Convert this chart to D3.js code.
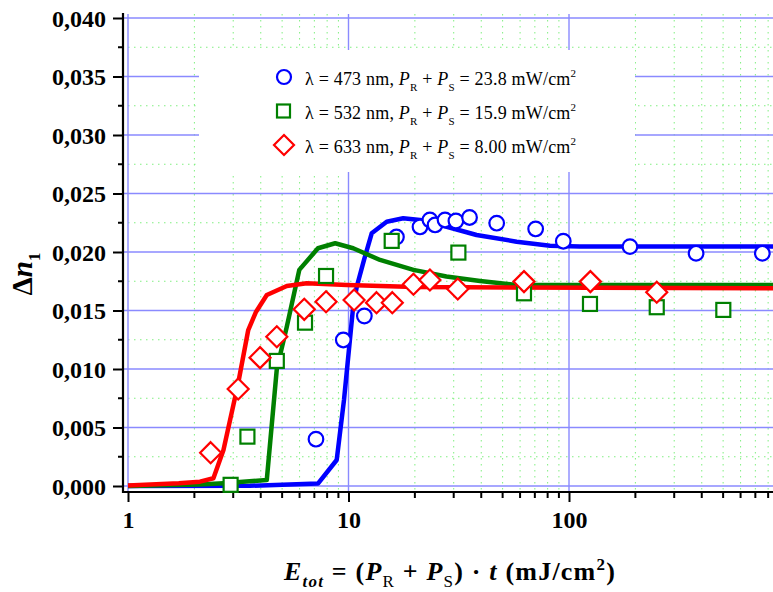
<!DOCTYPE html>
<html>
<head>
  <meta charset="utf-8">
  <title>Delta n1 vs total exposure</title>
  <script src="https://d3js.org/d3.v7.min.js"></script>
  <style>
    body { margin: 0; background: #fff; }
    svg { display: block; }
    svg text { font-family: "Liberation Serif", "Times New Roman", serif; }
  </style>
</head>
<body>
  <div id="chart"></div>
  <script>
    // tick values
    var xTicks = [1, 10, 100];
    var yTicks = [0, 0.005, 0.010, 0.015, 0.020, 0.025, 0.030, 0.035, 0.040];
    var yTickLabels = ["0,000", "0,005", "0,010", "0,015", "0,020", "0,025", "0,030", "0,035", "0,040"];

    // measured points (circles / squares / diamonds)
    var blueX = [7.12, 9.47, 11.8, 16.5, 21.1, 23.4, 24.7, 27.4, 30.7, 35.4, 47.0, 70.6, 94.2, 189, 377, 753];
    var blueY = [0.0040, 0.01248, 0.01453, 0.02128, 0.02214, 0.02274, 0.02231, 0.02274, 0.02265, 0.02295, 0.02246, 0.02197, 0.02092, 0.02046, 0.01989, 0.01989];

    var greenX = [2.92, 3.48, 4.73, 6.35, 7.91, 15.7, 31.5, 62.5, 124.5, 250, 501];
    var greenY = [0.0001, 0.00422, 0.01069, 0.01396, 0.01795, 0.02095, 0.01995, 0.01647, 0.01556, 0.01528, 0.01505];

    var redX = [2.37, 3.16, 3.97, 4.73, 6.30, 7.91, 10.6, 13.4, 15.8, 19.7, 23.4, 31.3, 62.5, 125, 250];
    var redY = [0.00285, 0.00829, 0.01097, 0.01276, 0.0151, 0.01575, 0.0159, 0.01567, 0.01567, 0.01724, 0.01761, 0.01684, 0.01747, 0.01747, 0.01656];

    // fitted curves
    var blueFitX = [1, 3.57, 7.27, 8.84, 9.54, 10.5, 10.9, 11.76, 12.74, 14.9, 17.7, 21.1, 27.9, 38.1, 57.9, 82, 112, 1000];
    var blueFitY = [0, 0.00002, 0.00021, 0.00222, 0.00735, 0.01533, 0.01703, 0.01932, 0.0216, 0.02259, 0.02288, 0.02274, 0.02216, 0.02145, 0.02088, 0.02054, 0.02046, 0.02046];

    var greenFitX = [1, 2.12, 2.71, 4.26, 4.73, 5.25, 5.98, 7.27, 8.7, 10.5, 13.9, 19.7, 27.8, 39.5, 57.7, 1000];
    var greenFitY = [0, 0.00012, 0.00023, 0.00051, 0.0100, 0.01362, 0.01847, 0.02032, 0.02075, 0.02032, 0.01932, 0.01847, 0.0179, 0.01753, 0.01718, 0.01718];

    var redFitX = [1, 1.7, 2.12, 2.44, 2.71, 3.16, 3.51, 3.81, 4.26, 5.25, 6.46, 9.83, 20, 1000];
    var redFitY = [0.00005, 0.00023, 0.00037, 0.00066, 0.00308, 0.00878, 0.01333, 0.0149, 0.01633, 0.0171, 0.01733, 0.01718, 0.0170, 0.0169];

    var svg = d3.select("#chart").append("svg")
      .attr("width", 773)
      .attr("height", 592);

    var x = d3.scaleLog().domain([1, 1000]).range([128, 789.5]);
    var y = d3.scaleLinear().domain([0, 0.04]).range([486, 18]);

    var xMinor = [];
    [1, 10, 100].forEach(function(d) {
      for (var k = 2; k <= 9; k++) xMinor.push(d * k);
    });
    var yMinor = d3.range(0.0025, 0.04, 0.005);

    // grid
    var grid = svg.append("g");
    grid.selectAll(".vminor").data(xMinor).enter().append("line")
      .attr("x1", function(d) { return x(d); }).attr("x2", function(d) { return x(d); })
      .attr("y1", 14).attr("y2", 491)
      .attr("stroke", "#80ef80").attr("stroke-width", 1)
      .attr("stroke-dasharray", "1.5,4.5");
    grid.selectAll(".hminor").data(yMinor).enter().append("line")
      .attr("x1", 128).attr("x2", 773)
      .attr("y1", function(d) { return y(d); }).attr("y2", function(d) { return y(d); })
      .attr("stroke", "#80ef80").attr("stroke-width", 1)
      .attr("stroke-dasharray", "1.5,4.5");
    grid.selectAll(".vmajor").data(xTicks).enter().append("line")
      .attr("x1", function(d) { return x(d); }).attr("x2", function(d) { return x(d); })
      .attr("y1", 14).attr("y2", 491)
      .attr("stroke", "#8a8aff").attr("stroke-width", 1.4);
    grid.selectAll(".hmajor").data(yTicks).enter().append("line")
      .attr("x1", 124).attr("x2", 773)
      .attr("y1", function(d) { return y(d); }).attr("y2", function(d) { return y(d); })
      .attr("stroke", "#8a8aff").attr("stroke-width", 1.4);

    // legend box hides the grid behind it
    svg.append("rect")
      .attr("x", 199).attr("y", 50).attr("width", 436).attr("height", 122)
      .attr("fill", "#fff");

    // axes
    var yAxis = svg.append("g").attr("transform", "translate(123,0)")
      .call(d3.axisLeft(y).tickValues(yTicks).tickSize(10)
        .tickFormat(function(d, i) { return yTickLabels[i]; }));
    yAxis.attr("font-family", null);
    yAxis.append("g").selectAll("line").data(yMinor).enter().append("line")
      .attr("x1", -5).attr("x2", 0)
      .attr("y1", function(d) { return y(d); }).attr("y2", function(d) { return y(d); })
      .attr("stroke", "#000").attr("stroke-width", 2);
    yAxis.select(".domain").attr("d", "M0,13V493").attr("stroke-width", 2.2);
    yAxis.selectAll(".tick line").attr("stroke-width", 2);
    yAxis.selectAll(".tick text")
      .attr("x", -17).attr("dy", "0.34em")
      .style("font-size", "24px")
      .style("font-weight", "bold").attr("fill", "#000");

    var xAxis = svg.append("g").attr("transform", "translate(0,492)")
      .call(d3.axisBottom(x).tickValues(xTicks).tickSize(10)
        .tickFormat(d3.format("d")));
    xAxis.attr("font-family", null);
    xAxis.append("g").selectAll("line").data(xMinor).enter().append("line")
      .attr("x1", function(d) { return x(d); }).attr("x2", function(d) { return x(d); })
      .attr("y1", 0).attr("y2", 6)
      .attr("stroke", "#000").attr("stroke-width", 2);
    xAxis.select(".domain").attr("d", "M122,0H773").attr("stroke-width", 2.2);
    xAxis.selectAll(".tick line").attr("stroke-width", 2);
    xAxis.selectAll(".tick text")
      .attr("y", 19).attr("dy", "0.71em")
      .style("font-size", "24px")
      .style("font-weight", "bold").attr("fill", "#000");

    // fitted lines
    var line = d3.line()
      .x(function(d) { return x(d[0]); })
      .y(function(d) { return y(d[1]); });
    var fits = [
      { xs: blueFitX, ys: blueFitY, color: "#0000ff" },
      { xs: greenFitX, ys: greenFitY, color: "#008000" },
      { xs: redFitX, ys: redFitY, color: "#ff0000" }
    ];
    fits.forEach(function(f) {
      svg.append("path")
        .datum(d3.zip(f.xs, f.ys))
        .attr("d", line)
        .attr("fill", "none")
        .attr("stroke", f.color)
        .attr("stroke-width", 4.5)
        .attr("stroke-linejoin", "round");
    });

    // markers
    function drawMarkers(xs, ys, shape, color) {
      var g = svg.append("g");
      var pts = d3.zip(xs, ys);
      if (shape === "circle") {
        g.selectAll("circle").data(pts).enter().append("circle")
          .attr("cx", function(d) { return x(d[0]); })
          .attr("cy", function(d) { return y(d[1]); })
          .attr("r", 7.3);
      } else if (shape === "square") {
        g.selectAll("rect").data(pts).enter().append("rect")
          .attr("x", function(d) { return x(d[0]) - 7; })
          .attr("y", function(d) { return y(d[1]) - 7; })
          .attr("width", 14).attr("height", 14);
      } else {
        g.selectAll("path").data(pts).enter().append("path")
          .attr("d", function(d) {
            var cx = x(d[0]), cy = y(d[1]), r = 10.5;
            return "M" + cx + "," + (cy - r) + "L" + (cx + r) + "," + cy +
              "L" + cx + "," + (cy + r) + "L" + (cx - r) + "," + cy + "Z";
          });
      }
      g.selectAll("*").attr("fill", "#fff").attr("stroke", color).attr("stroke-width", 2.2);
    }
    drawMarkers(blueX, blueY, "circle", "#0000ff");
    drawMarkers(greenX, greenY, "square", "#008000");
    drawMarkers(redX, redY, "diamond", "#ff0000");

    // legend
    var legend = [
      { shape: "circle", color: "#0000ff", lam: "473", p: "23.8" },
      { shape: "square", color: "#008000", lam: "532", p: "15.9" },
      { shape: "diamond", color: "#ff0000", lam: "633", p: "8.00" }
    ];
    legend.forEach(function(l, i) {
      var cy = 77 + i * 34;
      var g = svg.append("g");
      if (l.shape === "circle") {
        g.append("circle").attr("cx", 284).attr("cy", cy).attr("r", 7);
      } else if (l.shape === "square") {
        g.append("rect").attr("x", 277).attr("y", cy - 6.5).attr("width", 13).attr("height", 13);
      } else {
        g.append("path").attr("d", "M284," + (cy - 10) + "L294," + cy + "L284," + (cy + 10) + "L274," + cy + "Z");
      }
      g.selectAll("*").attr("fill", "#fff").attr("stroke", l.color).attr("stroke-width", 2.2);
      var t = svg.append("text").attr("x", 305).attr("y", cy + 8)
        .style("font-size", "18px").style("letter-spacing", "0.2px").attr("fill", "#000");
      t.append("tspan").text("\u03bb = " + l.lam + " nm, ");
      t.append("tspan").style("font-style", "italic").text("P");
      t.append("tspan").attr("dy", 6).style("font-size", "11px").text("R");
      t.append("tspan").attr("dy", -6).text(" + ");
      t.append("tspan").style("font-style", "italic").text("P");
      t.append("tspan").attr("dy", 6).style("font-size", "11px").text("S");
      t.append("tspan").attr("dy", -6).text(" = " + l.p + " mW/cm");
      t.append("tspan").attr("dy", -8).style("font-size", "11px").text("2");
    });

    // y label
    var yl = svg.append("text")
      .attr("transform", "translate(32,274) rotate(-90)")
      .attr("text-anchor", "middle")
      .style("font-size", "29px").style("font-weight", "bold").attr("fill", "#000");
    yl.append("tspan").text("\u0394");
    yl.append("tspan").style("font-style", "italic").text("n");
    yl.append("tspan").attr("dy", 8).style("font-size", "17px").text("1");

    // x label
    var xl = svg.append("text")
      .attr("x", 450).attr("y", 580)
      .attr("text-anchor", "middle")
      .style("font-size", "26px").style("letter-spacing", "1.2px")
      .style("font-weight", "bold").attr("fill", "#000");
    xl.append("tspan").style("font-style", "italic").text("E");
    xl.append("tspan").attr("dy", 7).style("font-style", "italic").style("font-size", "17px").text("tot");
    xl.append("tspan").attr("dy", -7).text(" = (");
    xl.append("tspan").style("font-style", "italic").text("P");
    xl.append("tspan").attr("dy", 7).style("font-size", "17px").style("font-weight", "normal").text("R");
    xl.append("tspan").attr("dy", -7).text(" + ");
    xl.append("tspan").style("font-style", "italic").text("P");
    xl.append("tspan").attr("dy", 7).style("font-size", "17px").style("font-weight", "normal").text("S");
    xl.append("tspan").attr("dy", -7).text(") \u00b7 ");
    xl.append("tspan").style("font-style", "italic").text("t");
    xl.append("tspan").text(" (mJ/cm");
    xl.append("tspan").attr("dy", -10).style("font-size", "17px").text("2");
    xl.append("tspan").attr("dy", 10).text(")");
  </script>
</body>
</html>
